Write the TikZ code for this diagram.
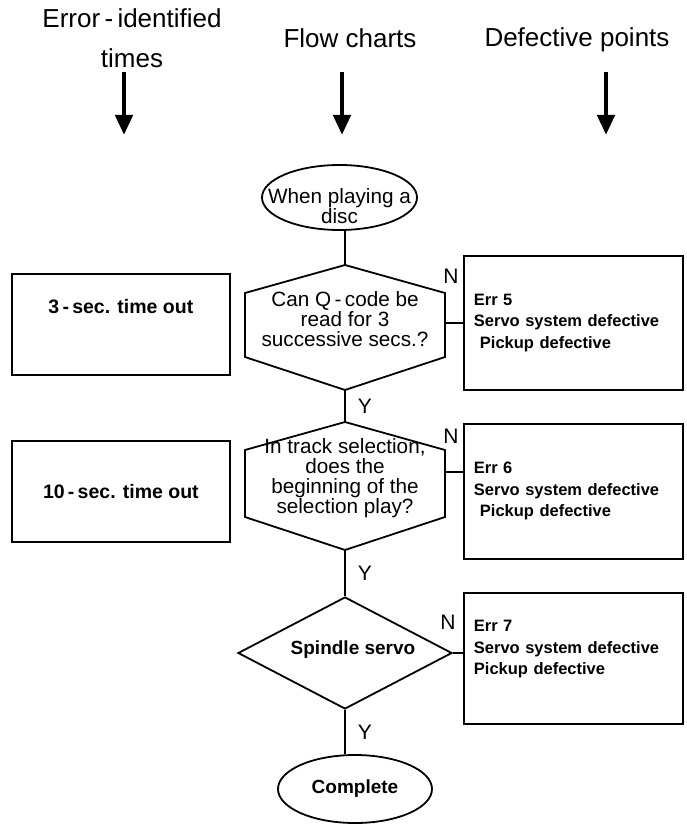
\documentclass[tikz,border=0pt]{standalone}
\usepackage{fontspec}
\setmainfont{Liberation Sans}
\usetikzlibrary{shapes.geometric, arrows.meta, positioning, calc}

\begin{document}
\begin{tikzpicture}[x=1pt, y=-1pt,
  link/.style={line width=1.8pt},
  dnarrow/.style={line width=4.5pt, -{Triangle[width=17pt, length=20pt]}},
  hdr/.style={font=\fontsize{26}{40}\selectfont, align=center},
  ftxt/.style={font=\fontsize{20.7}{20}\selectfont, align=center},
  fbold/.style={font=\fontsize{19}{20}\selectfont\bfseries},
  ynlbl/.style={font=\fontsize{21}{21}\selectfont, inner sep=0pt},
  tbox/.style={draw, line width=1.8pt, minimum width=218pt, inner sep=0pt,
               font=\fontsize{19.5}{20}\selectfont\bfseries},
  ebox/.style={draw, line width=1.8pt, inner xsep=10pt, inner ysep=0pt,
               text width=199pt, align=left,
               font=\fontsize{16.5}{21.5}\selectfont\bfseries}]

  \useasboundingbox (0,0) rectangle (686,834);

  % Column headings with their arrows
  \node[hdr] (h1) at (132,38) {Error\,-\,identified\\times};
  \node[hdr, anchor=base] (h2) at (350,48) {Flow charts};
  \node[hdr, anchor=base] (h3) at (577,47) {Defective points};
  \foreach \i/\x in {1/124, 2/342, 3/606} {
    \coordinate (a\i) at (\x,72);
    \coordinate (b\i) at (\x,135);
    \draw[dnarrow] (a\i) -- (b\i);
  }

  % Start
  \node[ellipse, draw, link, minimum width=155pt, minimum height=65pt, inner sep=0pt,
        label={[ftxt, yshift=-9pt]center:When playing a\\disc}] (st) at (339.5,197.5) {};

  % Decision hexagons
  \foreach \n/\yt/\yb/\ye in {q1/265/390/323, q2/422/550/472} {
    \draw[link] (345,\yt) coordinate (\n n) -- (445,\yt+28) -- (445,\yb-33)
      -- (345,\yb) coordinate (\n s) -- (245,\yb-33) -- (245,\yt+28) -- cycle;
    \coordinate (\n e) at (445,\ye);
  }
  \node[ftxt] (q1t) at (345,319) {Can Q\,-\,code be\\read for 3\\successive secs.?};
  \node[ftxt] (q2t) at (345,478) {In track selection,\\does the\\beginning of the\\selection play?};

  \node[diamond, draw, link, aspect=1.9, minimum width=214pt, minimum height=112pt,
        inner sep=0pt, label={[fbold, xshift=8pt, yshift=3pt]center:Spindle servo}]
    (dm) at (345,653) {};

  \node[ellipse, draw, link, minimum width=154pt, minimum height=68pt, inner sep=0pt,
        fbold] (cp) at (355,789) {Complete};

  % Time-out boxes
  \node[tbox, minimum height=101pt, text height=15pt, text depth=37pt,
        anchor=north west] (t3) at (11,273) {3\,-\,sec. time out};
  \node[tbox, minimum height=101pt, anchor=north west] (t10) at (11,440) {10\,-\,sec. time out};

  % Defect boxes
  \node[ebox, minimum height=134pt, anchor=north west] (e5) at (463,255)
    {Err 5\\Servo system defective\\\hspace*{6pt}Pickup defective};
  \node[ebox, minimum height=135pt, anchor=north west] (e6) at (463,423)
    {Err 6\\Servo system defective\\\hspace*{6pt}Pickup defective};
  \node[ebox, minimum height=131pt, anchor=north west] (e7) at (463,592)
    {Err 7\\Servo system defective\\Pickup defective\\\mbox{}};

  % Flow lines
  \draw[link] (st.south -| q1n) -- (q1n);
  \draw[link] (q1s) -- node[ynlbl, right=12pt] (y1) {Y} (q2n);
  \draw[link] (q2s) -- node[ynlbl, right=12pt] (y2) {Y} (dm.north);
  \draw[link] (dm.south) -- node[ynlbl, right=12pt] (y3) {Y} (dm.south |- cp.north);

  \draw[link] (q1e) -- (q1e -| e5.west);
  \draw[link] (q2e) -- (q2e -| e6.west);
  \draw[link] (dm.east) -- (dm.east -| e7.west);
  \node[ynlbl] (n1) at (451,276) {N};
  \node[ynlbl] (n2) at (451,436) {N};
  \node[ynlbl] (n3) at (448,622) {N};
\end{tikzpicture}
\end{document}
